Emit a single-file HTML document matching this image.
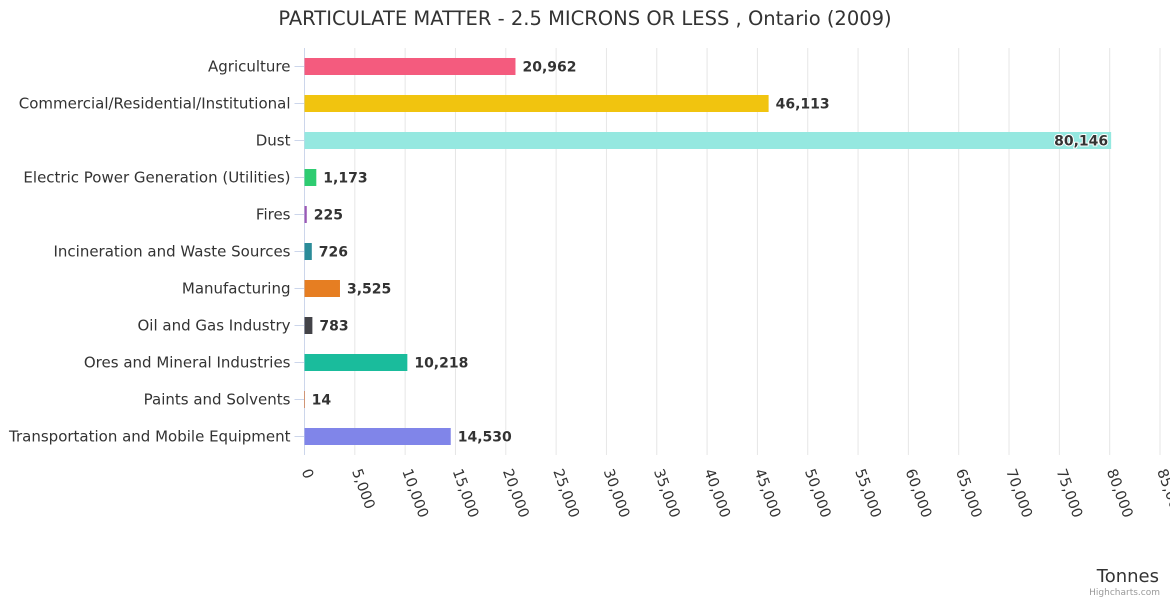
<!DOCTYPE html>
<html><head><meta charset="utf-8"><style>
body{margin:0;background:#fff;font-family:"Liberation Sans","DejaVu Sans",sans-serif}
</style></head><body>
<svg id="c" width="1170" height="600" xmlns="http://www.w3.org/2000/svg" style="font-family:'DejaVu Sans','Liberation Sans',sans-serif">
<text x="585" y="25" text-anchor="middle" font-size="19.5" fill="#333">PARTICULATE MATTER - 2.5 MICRONS OR LESS , Ontario (2009)</text>
<g id="grid"></g><g id="bars"></g><g id="cats"></g><g id="ticks"></g>
<text x="1159" y="582" text-anchor="end" font-size="18" fill="#333">Tonnes</text>
<text x="1160" y="595" text-anchor="end" font-size="9" fill="#999">Highcharts.com</text>
</svg>
<script>
const categories=["Agriculture","Commercial/Residential/Institutional","Dust","Electric Power Generation (Utilities)","Fires","Incineration and Waste Sources","Manufacturing","Oil and Gas Industry","Ores and Mineral Industries","Paints and Solvents","Transportation and Mobile Equipment"];
const values=[20962,46113,80146,1173,225,726,3525,783,10218,14,14530];
const colors=["#f45b7e","#f1c40f","#95e8e0","#2ecc71","#9b59b6","#2b8c99","#e67e22","#434348","#1abc9c","#d35400","#8085e9"];
const ticks=[0,5000,10000,15000,20000,25000,30000,35000,40000,45000,50000,55000,60000,65000,70000,75000,80000,85000];
const NS="http://www.w3.org/2000/svg";
const x0=304.5,x1=1160,xmax=85000,yTop=48,yBottom=455;
const X=v=>x0+(x1-x0)*v/xmax;
const step=(yBottom-yTop)/categories.length;
const Y=i=>yTop+step*(i+0.5);
function mk(t,a,p){const e=document.createElementNS(NS,t);for(const k in a)e.setAttribute(k,a[k]);p.appendChild(e);return e;}
const g=document.getElementById('grid'),b=document.getElementById('bars'),c=document.getElementById('cats'),tk=document.getElementById('ticks');
ticks.forEach(t=>{
 const l=mk('line',{x1:X(t),x2:X(t),y1:yTop,y2:yBottom,stroke:t===0?'#ccd6eb':'#e6e6e6'},g);
 
 
 const x=X(t)-3,y=471;
 const tx=mk('text',{x:x,y:y,transform:`rotate(70 ${x} ${y})`,'font-size':14.5,fill:'#333'},tk);
 tx.textContent=t.toLocaleString('en-US');
 
 
});
categories.forEach((n,i)=>{
 const y=Y(i);
 const tl=mk('line',{x1:x0-10,x2:x0,y1:y,y2:y,stroke:'#ccd6eb'},g);
 
 
 const r=mk('rect',{x:x0,y:y-8.5,width:Math.max(X(values[i])-x0,0.5),height:17,fill:colors[i]},b);
 
 
 const lt=mk('text',{x:x0-14,y:y+5,'text-anchor':'end','font-size':15,fill:'#333'},c);
 lt.textContent=n;
 
 
 const inside=X(values[i])+60>1165;
 const vl=mk('text',{x:inside?X(values[i])-3:X(values[i])+7,y:y+5,'text-anchor':inside?'end':'start','font-size':14,'font-weight':'bold',fill:'#333',stroke:'#fff','stroke-width':2,'paint-order':'stroke'},c);
 vl.textContent=values[i].toLocaleString('en-US');
 
 
});
</script>
</body></html>
